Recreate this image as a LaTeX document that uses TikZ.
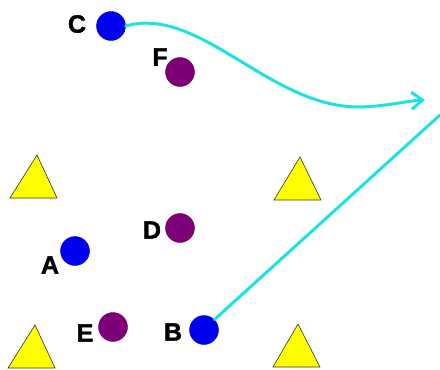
\documentclass[tikz,border=0pt]{standalone}
\usepackage{fontspec}
\setmainfont{Liberation Sans}
\newfontfamily\heavyfont[FakeBold=1.6]{Liberation Sans Bold}
\usetikzlibrary{arrows.meta}
\definecolor{dotblue}{RGB}{0,0,240}
\definecolor{dotpurple}{RGB}{125,0,120}
\definecolor{trianglefill}{RGB}{255,255,0}
\definecolor{pathcyan}{RGB}{30,225,230}
\begin{document}
\begin{tikzpicture}[x=1pt,y=-1pt,
  bluedot/.style={circle,fill=dotblue,draw=dotblue!80!black,line width=0.4pt,minimum size=29pt,inner sep=0pt},
  purpledot/.style={circle,fill=dotpurple,draw=dotpurple!85!black,line width=0.4pt,minimum size=29pt,inner sep=0pt},
  lbl/.style={font=\heavyfont\fontsize{25}{25}\selectfont,inner sep=0pt},
  cone/.style={fill=trianglefill,draw=black!80,line width=0.6pt,line join=miter},
  run/.style={draw=pathcyan,line width=3pt,line cap=round}]
\useasboundingbox (0,0) rectangle (440,370);
% cones
\draw[cone] (37,155) -- (57,198) -- (10,198) -- cycle;
\draw[cone] (300,157) -- (321,200) -- (274,200) -- cycle;
\draw[cone] (35,325) -- (55,368) -- (8,368) -- cycle;
\draw[cone] (298,324) -- (320,367) -- (273,367) -- cycle;
% players
\node[bluedot] (C) at (111,26) {};
\node[purpledot] (F) at (180,72) {};
\node[purpledot] (D) at (180,228) {};
\node[bluedot] (A) at (75,251) {};
\node[purpledot] (E) at (113,327) {};
\node[bluedot] (B) at (204,330) {};
% labels
\node[lbl] (lC) at (77,24) {C};
\node[lbl] (lF) at (160,57) {F};
\node[lbl] (lD) at (152,230) {D};
\node[lbl] (lA) at (50,265) {A};
\node[lbl] (lE) at (85,333) {E};
\node[lbl] (lB) at (173,332) {B};
% runs
\coordinate (cEnd) at (425,100);
\coordinate (bEnd) at (440,115);
\draw[run,-{Straight Barb[length=11pt,width=17pt,line width=3pt]}]
  (C.east) .. controls (200,5) and (270,108) .. (360,107)
  .. controls (390,106) and (405,101) .. (cEnd);
\begin{scope}
\clip (0,0) rectangle (440,370);
\draw[run] (B.north east) -- (bEnd);
\end{scope}
\end{tikzpicture}
\end{document}
